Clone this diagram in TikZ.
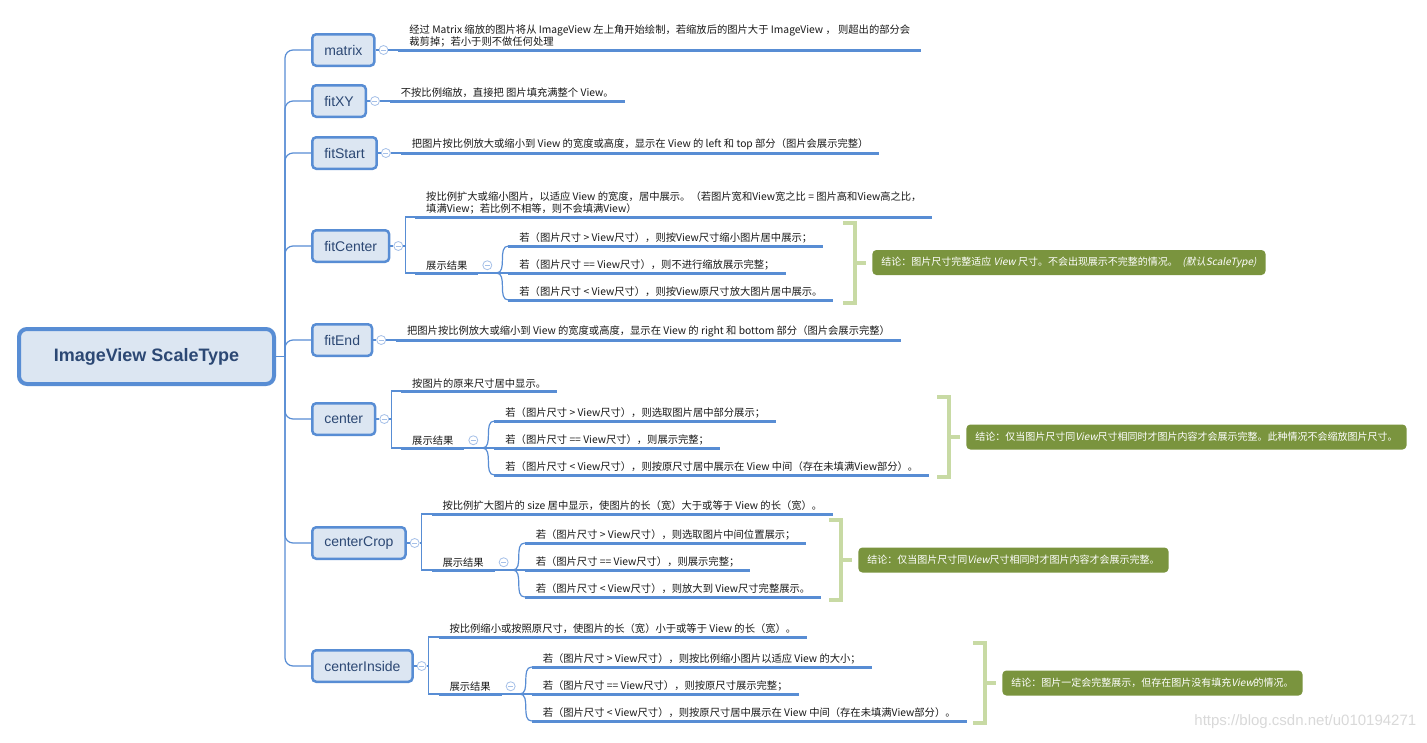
\documentclass[tikz,border=0pt]{standalone}
\usepackage{fontspec}
\setmainfont{Noto Sans CJK SC}
\newfontfamily\latinfont{Liberation Sans}
\newfontfamily\slfont{Noto Sans CJK SC}[FakeSlant=0.2]
\usetikzlibrary{positioning}
\definecolor{mapblue}{RGB}{88,141,212}
\definecolor{mapfill}{RGB}{220,230,242}
\definecolor{mapink}{RGB}{44,72,116}
\definecolor{foldblue}{RGB}{165,192,232}
\definecolor{olive}{RGB}{122,148,62}
\definecolor{sage}{RGB}{200,218,164}
\newcommand{\slant}[1]{{\slfont #1}}
\newcommand{\leaffont}{\fontsize{10.3}{12}\selectfont}
\tikzset{
	rootbox/.style = {draw=mapblue, line width=4pt, fill=mapfill, rounded corners=8pt,
		minimum width=255pt, minimum height=55pt, text=mapink,
		font=\latinfont\bfseries\fontsize{18}{20}\selectfont},
	kind/.style    = {draw=mapblue, line width=2.5pt, fill=mapfill, rounded corners=4pt,
		minimum height=31.5pt, inner xsep=12pt, anchor=west, text=mapink,
		font=\latinfont\fontsize{14}{16}\selectfont},
	fold/.style    = {circle, draw=foldblue, line width=0.8pt, fill=white, minimum size=9pt,
		inner sep=0pt, path picture={\draw[foldblue, line width=0.8pt]
			([xshift=-2.5pt]path picture bounding box.center) --
			([xshift=2.5pt]path picture bounding box.center);}},
	leaf/.style    = {anchor=south west, inner xsep=11pt, inner ysep=3pt, outer sep=0pt,
		align=left, text=black!90, font=\leaffont},
	note/.style    = {fill=olive, text=white, rounded corners=4pt, minimum height=25pt,
		inner xsep=9pt, anchor=west, font=\fontsize{10}{12}\selectfont},
	branch/.style  = {draw=mapblue, line width=1.2pt},
	uline/.style   = {draw=mapblue, line width=3pt},
	bracket/.style = {draw=sage, line width=4pt}
}

\begin{document}
\begin{tikzpicture}[auto, thick, node distance=3pt, x=1pt, y=-1pt]
	\path[use as bounding box, fill=white] (0,0) rectangle (1427,742);
	
	% Drawing the root and the scale types
	\draw
	node at (146.5,356.5)[rootbox] (root) {ImageView ScaleType}
	node at (311,50)[kind] (n1) {matrix}
	node at (311,101)[kind] (n2) {fitXY}
	node at (311,153)[kind] (n3) {fitStart}
	node at (311,246)[kind] (n4) {fitCenter}
	node at (311,340)[kind] (n5) {fitEnd}
	node at (311,419)[kind] (n6) {center}
	node at (311,543)[kind] (n7) {centerCrop}
	node at (311,666)[kind] (n8) {centerInside};
	
	\foreach \i in {1,...,8}
	\node[fold, right=of n\i] (c\i) {};
	
	% Single descriptions
	\node[leaf, right=10pt of c1, anchor=south west] (l1) {经过 Matrix 缩放的图片将从 ImageView 左上角开始绘制，若缩放后的图片大于 ImageView ， 则超出的部分会\\裁剪掉；若小于则不做任何处理};
	\node[leaf, right=10pt of c2, anchor=south west] (l2) {不按比例缩放，直接把 图片填充满整个 View。};
	\node[leaf, right=10pt of c3, anchor=south west] (l3) {把图片按比例放大或缩小到 View 的宽度或高度，显示在 View 的 left 和 top 部分（图片会展示完整）};
	\node[leaf, right=10pt of c5, anchor=south west] (l5) {把图片按比例放大或缩小到 View 的宽度或高度，显示在 View 的 right 和 bottom 部分（图片会展示完整）};
	
	% fitCenter
	\node[leaf, above right=29pt and 12pt of c4.east] (l4) {按比例扩大或缩小图片，以适应 View 的宽度，居中展示。（若图片宽和View宽之比 = 图片高和View高之比，\\填满View；若比例不相等，则不会填满View）};
	\node[leaf, below right=27pt and 12pt of c4.east, anchor=south west] (g4) {展示结果};
	\node[leaf, above right=27pt and 30pt of g4.south east] (up4) {若（图片尺寸 > View尺寸），则按View尺寸缩小图片居中展示；};
	\node[leaf, right=30pt of g4.south east, anchor=south west] (mid4) {若（图片尺寸 == View尺寸），则不进行缩放展示完整；};
	\node[leaf, below right=27pt and 30pt of g4.south east, anchor=south west] (low4) {若（图片尺寸 < View尺寸），则按View原尺寸放大图片居中展示。};
	\node[note] at (872,262.5) (k4) {结论：图片尺寸完整适应 \slant{View} 尺寸。不会出现展示不完整的情况。\ \ \slant{(默认ScaleType)}};
	
	% center
	\node[leaf, above right=28pt and 12pt of c6.east] (l6) {按图片的原来尺寸居中显示。};
	\node[leaf, below right=29pt and 12pt of c6.east, anchor=south west] (g6) {展示结果};
	\node[leaf, above right=27pt and 30pt of g6.south east] (up6) {若（图片尺寸 > View尺寸），则选取图片居中部分展示；};
	\node[leaf, right=30pt of g6.south east, anchor=south west] (mid6) {若（图片尺寸 == View尺寸），则展示完整；};
	\node[leaf, below right=27pt and 30pt of g6.south east, anchor=south west] (low6) {若（图片尺寸 < View尺寸），则按原尺寸居中展示在 View 中间（存在未填满View部分）。};
	\node[note] at (966,437) (k6) {结论：仅当图片尺寸同\slant{View}尺寸相同时才图片内容才会展示完整。此种情况不会缩放图片尺寸。};
	
	% centerCrop
	\node[leaf, above right=29pt and 12pt of c7.east] (l7) {按比例扩大图片的 size 居中显示，使图片的长（宽）大于或等于 View 的长（宽）。};
	\node[leaf, below right=27pt and 12pt of c7.east, anchor=south west] (g7) {展示结果};
	\node[leaf, above right=27pt and 30pt of g7.south east] (up7) {若（图片尺寸 > View尺寸），则选取图片中间位置展示；};
	\node[leaf, right=30pt of g7.south east, anchor=south west] (mid7) {若（图片尺寸 == View尺寸），则展示完整；};
	\node[leaf, below right=27pt and 30pt of g7.south east, anchor=south west] (low7) {若（图片尺寸 < View尺寸），则放大到 View尺寸完整展示。};
	\node[note] at (858,560) (k7) {结论：仅当图片尺寸同\slant{View}尺寸相同时才图片内容才会展示完整。};
	
	% centerInside
	\node[leaf, above right=29pt and 12pt of c8.east] (l8) {按比例缩小或按照原尺寸，使图片的长（宽）小于或等于 View 的长（宽）。};
	\node[leaf, below right=28pt and 12pt of c8.east, anchor=south west] (g8) {展示结果};
	\node[leaf, above right=27pt and 30pt of g8.south east] (up8) {若（图片尺寸 > View尺寸），则按比例缩小图片以适应 View 的大小；};
	\node[leaf, right=30pt of g8.south east, anchor=south west] (mid8) {若（图片尺寸 == View尺寸），则按原尺寸展示完整；};
	\node[leaf, below right=27pt and 30pt of g8.south east, anchor=south west] (low8) {若（图片尺寸 < View尺寸），则按原尺寸居中展示在 View 中间（存在未填满View部分）。};
	\node[note] at (1002,683) (k8) {结论：图片一定会完整展示，但存在图片没有填充\slant{View}的情况。};
	
	\foreach \i in {4,6,7,8}
	\node[fold, right=4pt of g\i] (f\i) {};
	
	% Connectors
	\draw[branch] (root.east) -- ++(9,0) coordinate (trunk);
	\foreach \i in {1,...,8} {
		\draw[branch, rounded corners=8pt] (trunk) |- (n\i.west);
		\draw[branch] (n\i) -- (c\i);
	}
	\foreach \i in {1,2,3,5}
	\draw[branch] (c\i) -- (l\i.south west);
	\foreach \i in {4,6,7,8} {
		\draw[branch] (c\i.east) -- ++(2,0) |- (l\i.south west);
		\draw[branch] (c\i.east) -- ++(2,0) |- (g\i.south west);
		\draw[branch] (g\i.south east) -- (mid\i.south west);
		\draw[branch] (g\i.south east) -- ++(18,0) to[out=0, in=180] (up\i.south west);
		\draw[branch] (g\i.south east) -- ++(18,0) to[out=0, in=180] (low\i.south west);
		\draw[bracket] (k\i.west) ++(-29,-40) -- ++(12,0) -- ++(0,80) -- ++(-12,0);
		\draw[bracket] (k\i.west) ++(-17,0) -- ++(11,0);
	}
	\foreach \n in {l1,l2,l3,l4,l5,l6,l7,l8,g4,g6,g7,g8,up4,mid4,low4,up6,mid6,low6,up7,mid7,low7,up8,mid8,low8}
	\draw[uline] (\n.south west) -- (\n.south east);
	
	\node[anchor=east, text=black!15, font=\latinfont\fontsize{15}{17}\selectfont] at (1420,722) (wm) {https://blog.csdn.net/u010194271};
\end{tikzpicture}
\end{document}
